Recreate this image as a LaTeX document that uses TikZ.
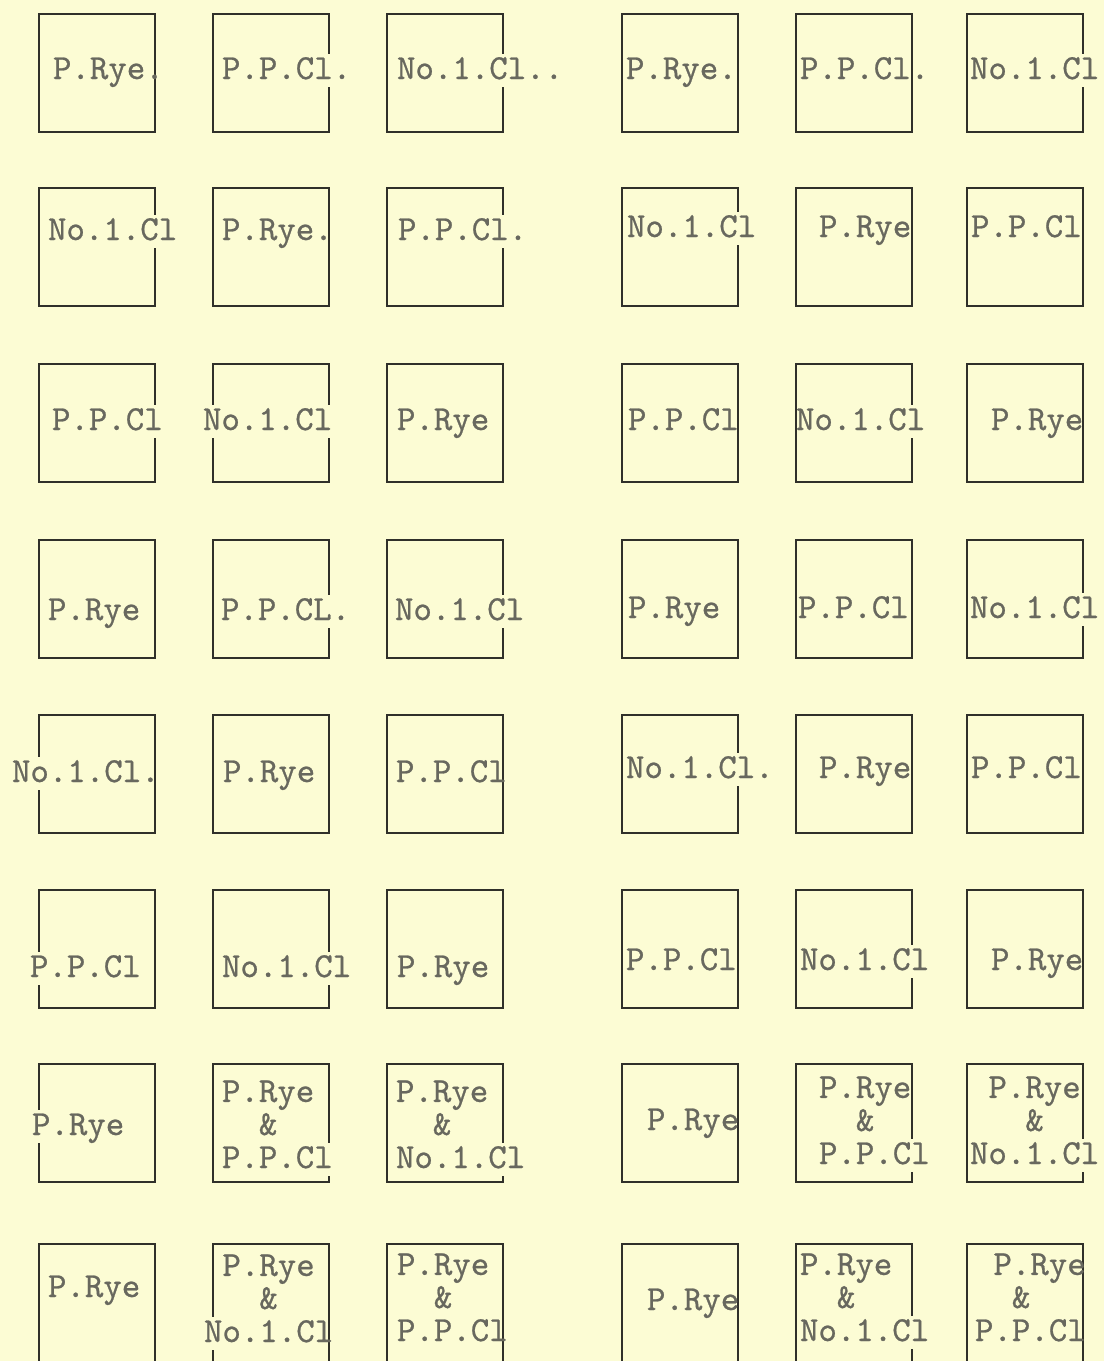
\documentclass[tikz,border=0pt]{standalone}
\usepackage{fontspec}
\setmonofont{lmmono10-regular.otf}[FakeBold=0.7]
\usepackage{xcolor}
\definecolor{paper}{RGB}{252,252,212}
\definecolor{ink}{RGB}{48,48,42}
\definecolor{typegrey}{RGB}{104,104,94}
\usetikzlibrary{positioning}
% typed letters that break the ruled edge of a square
\newcommand{\linegap}[1]{{\setlength{\fboxsep}{0pt}\colorbox{paper}{\rule[-6pt]{0pt}{24pt}#1}}}

\begin{document}
\begin{tikzpicture}[x=0.025cm, y=-0.025cm,
  cell/.style={draw=ink, line width=1.9pt, minimum width=2.9cm, minimum height=2.95cm,
               inner sep=0pt},
  lbl/.style={anchor=base west, inner sep=0pt, outer sep=0pt, align=left, text=typegrey,
              font=\ttfamily\fontsize{25}{23.5}\selectfont}
]
  \fill[paper] (0,0) rectangle (1104,1361);
  \clip (0,0) rectangle (1104,1361);

  % the squares, 8 rows of 6
  \foreach \y [count=\r] in {73,247,423,599,774,949,1123,1303}
    \foreach \x [count=\c] in {97,271,445,680,854,1025}
      \node[cell] (b\r\c) at (\x,\y) {};

  % row 1
  \node[lbl] (t11) at (53,79)   {P.Rye.};
  \node[lbl] (t12) at (222,79)  {P.P.C\linegap{l}.};
  \node[lbl] (t13) at (397,79)  {No.1.\linegap{Cl}..};
  \node[lbl] (t14) at (626,79)  {P.Rye.};
  \node[lbl] (t15) at (800,79)  {P.P.Cl.};
  \node[lbl] (t16) at (970,79)  {No.1.C\linegap{l}};
  % row 2
  \node[lbl] (t21) at (48,240)  {No.1.\linegap{Cl}};
  \node[lbl] (t22) at (222,240) {P.Rye.};
  \node[lbl] (t23) at (398,240) {P.P.C\linegap{l}.};
  \node[lbl] (t24) at (627,237) {No.1.\linegap{Cl}};
  \node[lbl] (t25) at (819,237) {P.Rye};
  \node[lbl] (t26) at (971,237) {P.P.Cl};
  % row 3
  \node[lbl] (t31) at (52,430)  {P.P.\linegap{Cl}};
  \node[lbl] (t32) at (203,430) {\linegap{N}o.1.C\linegap{l}};
  \node[lbl] (t33) at (397,430) {P.Rye};
  \node[lbl] (t34) at (628,430) {P.P.Cl};
  \node[lbl] (t35) at (796,430) {No.1.\linegap{Cl}};
  \node[lbl] (t36) at (991,430) {P.Rye};
  % row 4
  \node[lbl] (t41) at (48,620)  {P.Rye};
  \node[lbl] (t42) at (221,620) {P.P.C\linegap{L}.};
  \node[lbl] (t43) at (395,620) {No.1.\linegap{Cl}};
  \node[lbl] (t44) at (628,618) {P.Rye};
  \node[lbl] (t45) at (798,618) {P.P.Cl};
  \node[lbl] (t46) at (970,618) {No.1.\linegap{Cl}};
  % row 5
  \node[lbl] (t51) at (12,782)  {N\linegap{o}.1.Cl.};
  \node[lbl] (t52) at (223,782) {P.Rye};
  \node[lbl] (t53) at (396,782) {P.P.Cl};
  \node[lbl] (t54) at (626,778) {No.1.C\linegap{l}.};
  \node[lbl] (t55) at (819,778) {P.Rye};
  \node[lbl] (t56) at (971,778) {P.P.Cl};
  % row 6
  \node[lbl] (t61) at (30,977)  {\linegap{P}.P.Cl};
  \node[lbl] (t62) at (222,977) {No.1.\linegap{Cl}};
  \node[lbl] (t63) at (397,977) {P.Rye};
  \node[lbl] (t64) at (626,970) {P.P.Cl};
  \node[lbl] (t65) at (800,970) {No.1.\linegap{Cl}};
  \node[lbl] (t66) at (991,970) {P.Rye};
  % row 7 (multi-line labels sit on their last line)
  \node[lbl] (t71) at (32,1135)  {\linegap{P}.Rye};
  \node[lbl] (t72) at (222,1168) {P.Rye\\\phantom{PP}\&\\P.P.C\linegap{l}};
  \node[lbl] (t73) at (396,1168) {P.Rye\\\phantom{PP}\&\\No.1.\linegap{Cl}};
  \node[lbl] (t74) at (647,1130) {P.Rye};
  \node[lbl] (t75) at (819,1164) {P.Rye\\\phantom{PP}\&\\P.P.C\linegap{l}};
  \node[lbl] (t76) at (970,1164) {\phantom{P}P.Rye\\\phantom{PPP}\&\\No.1.\linegap{Cl}};
  % row 8
  \node[lbl] (t81) at (48,1297)  {P.Rye};
  \node[lbl] (t82) at (204,1342) {\phantom{P}P.Rye\\\phantom{PPP}\&\\\linegap{N}o.1.Cl};
  \node[lbl] (t83) at (397,1341) {P.Rye\\\phantom{PP}\&\\P.P.Cl};
  \node[lbl] (t84) at (647,1310) {P.Rye};
  \node[lbl] (t85) at (800,1341) {P.Rye\\\phantom{PP}\&\\No.1.C\linegap{l}};
  \node[lbl] (t86) at (975,1341) {\phantom{P}P.Rye\\\phantom{PP}\&\\P.P.Cl};
\end{tikzpicture}
\end{document}
